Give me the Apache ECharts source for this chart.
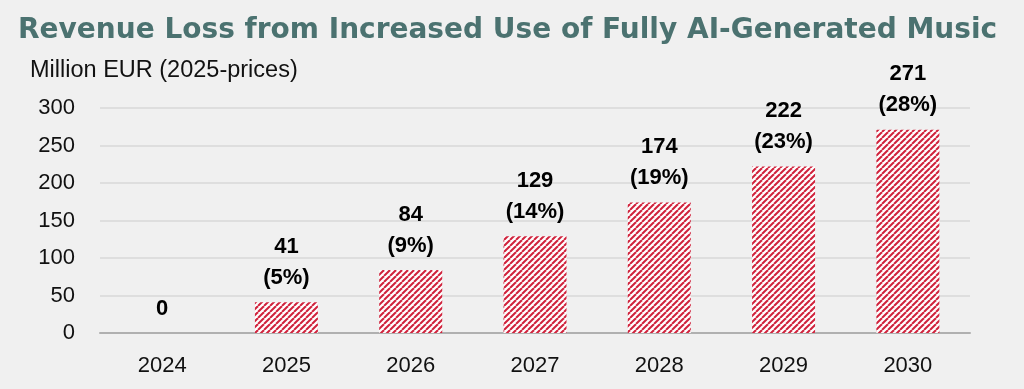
<!DOCTYPE html>
<html><head><meta charset="utf-8">
<script src="https://cdn.jsdelivr.net/npm/echarts@6/dist/echarts.min.js"></script>
<style>html,body{margin:0;padding:0;background:#f0f0f0;}#c{width:1024px;height:389px;}</style>
</head><body><div id="c"></div>
<script>
const years = ['2024','2025','2026','2027','2028','2029','2030'];
const values = [0, 41, 84, 129, 174, 222, 271];
const shares = ['', '5%', '9%', '14%', '19%', '23%', '28%'];
const yTicks = [0, 50, 100, 150, 200, 250, 300];

function stripe() {
  const s = 6;
  const c = document.createElement('canvas');
  c.width = s; c.height = s;
  const g = c.getContext('2d');
  g.fillStyle = '#ffffff'; g.fillRect(0,0,s,s);
  g.strokeStyle = '#d0223c'; g.lineWidth = 2.0;
  for (const o of [-s, 0, s]) {
    g.beginPath(); g.moveTo(o, s); g.lineTo(o + s, 0); g.stroke();
  }
  return c;
}
const pat = stripe();

const chart = echarts.init(document.getElementById('c'));
chart.setOption({
  backgroundColor: '#f0f0f0',
  animation: false,
  title: [
    {text: 'Revenue Loss from Increased Use of Fully AI-Generated Music', left: 13, top: 12,
     textStyle: {fontFamily: 'DejaVu Sans', fontWeight: 'bold', fontSize: 28, color: '#4b7270'}},
    {text: 'Million EUR (2025-prices)', left: 25, top: 54,
     textStyle: {fontFamily: 'Liberation Sans', fontWeight: 'normal', fontSize: 23.5, color: '#111'}}
  ],
  grid: {left: 100, right: 54, top: 108, bottom: 56},
  xAxis: {
    type: 'category', data: years,
    axisLine: {lineStyle: {color: '#b0b0b0', width: 2}},
    axisTick: {show: false},
    axisLabel: {fontFamily: 'Liberation Sans', fontSize: 22, color: '#111', margin: 22}
  },
  yAxis: {
    type: 'value', min: 0, max: 300, interval: 50,
    axisLabel: {fontFamily: 'Liberation Sans', fontSize: 22, color: '#111', margin: 25,
      formatter: v => yTicks.includes(v) ? String(v) : ''},
    splitLine: {lineStyle: {color: '#d9d9d9', width: 1.5}},
    axisLine: {show: false}, axisTick: {show: false}
  },
  series: [{
    type: 'bar', data: values, barWidth: 63,
    itemStyle: {color: {image: pat, repeat: 'repeat'}},
    label: {
      show: true, position: 'top', distance: 9,
      fontFamily: 'Liberation Sans', fontWeight: 'bold', fontSize: 22, color: '#000', lineHeight: 31,
      formatter: p => shares[p.dataIndex] ? p.value + '\n(' + shares[p.dataIndex] + ')' : String(p.value)
    }
  }]
});
</script></body></html>
